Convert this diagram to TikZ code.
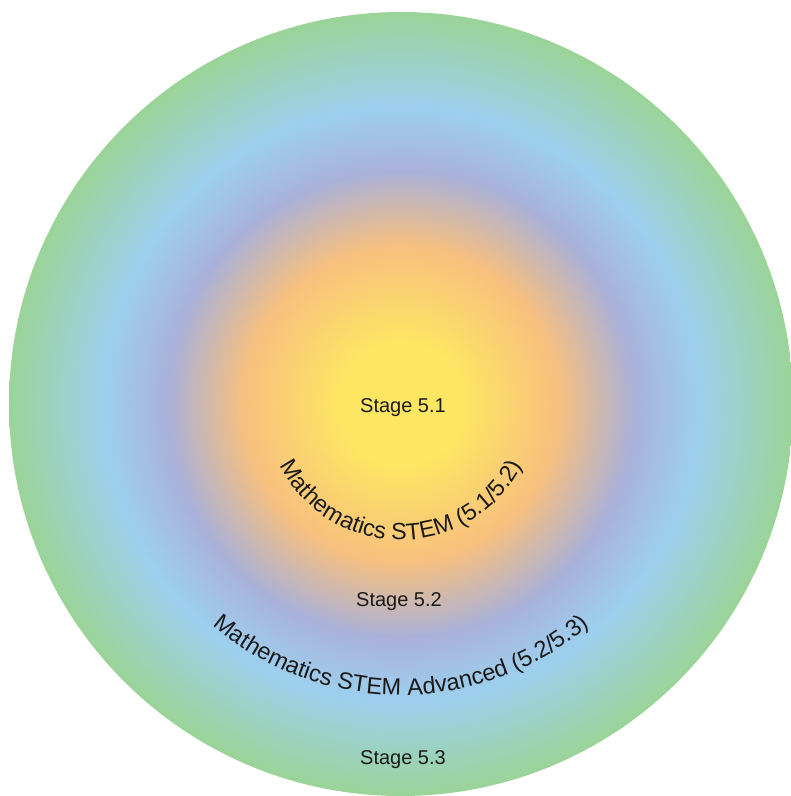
\documentclass[tikz,border=0pt]{standalone}
\usepackage{fontspec}
\setmainfont{Liberation Sans}
\usetikzlibrary{decorations.text}
\definecolor{cy}{HTML}{FDE762}
\definecolor{co}{HTML}{F8C07E}
\definecolor{cl}{HTML}{A9B1D9}
\definecolor{cb}{HTML}{9DD0EE}
\definecolor{cg}{HTML}{9BD498}
\definecolor{ink}{HTML}{1A1A1A}
\pgfdeclareradialshading{rings}{\pgfpoint{0bp}{0bp}}{color(0bp)=(cy); color(3.8bp)=(cy); color(10bp)=(co); color(14.9bp)=(cl); color(19bp)=(cb); color(25bp)=(cg); color(50bp)=(cg)}
\begin{document}
\begin{tikzpicture}[x=1pt,y=1pt,
  stagelabel/.style={text=ink, font=\fontsize{20}{24}\selectfont, inner sep=0pt}]
\useasboundingbox (0,0) rectangle (791,796);
\coordinate (c) at (401,392);
\shade[shading=rings] (c) circle (392);
\node[stagelabel] (s1) at (403,388) {Stage 5.1};
\node[stagelabel] (s2) at (399,194) {Stage 5.2};
\node[stagelabel] (s3) at (403,36) {Stage 5.3};
\path[decorate, decoration={text along path, text align=center,
  text color=ink,
  text={|\fontsize{23.5}{27}\selectfont|Mathematics STEM (5.1/5.2)}}]
  (c) ++(190:136) arc (190:350:136);
\path[decorate, decoration={text along path, text align=center,
  text color=ink,
  text={|\fontsize{23.5}{27}\selectfont|Mathematics STEM Advanced (5.2/5.3)}}]
  (c) ++(200:291) arc (200:340:291);
\end{tikzpicture}
\end{document}
